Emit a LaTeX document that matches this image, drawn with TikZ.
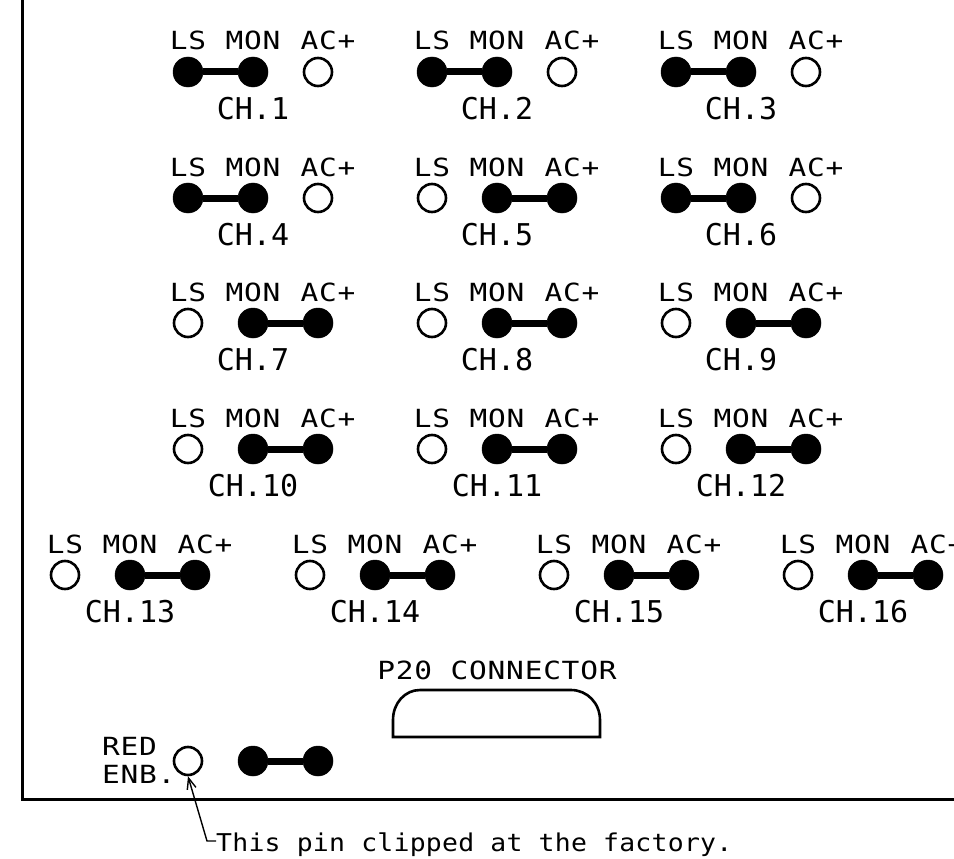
\documentclass[tikz,border=0pt]{standalone}
\usepackage{fontspec}
\setmainfont{DejaVu Sans Mono}
\newfontfamily\lblfont[FakeStretch=1.18,LetterSpace=3]{DejaVu Sans Mono}
\newfontfamily\chfont[LetterSpace=0]{DejaVu Sans Mono}
\newfontfamily\notefont[FakeStretch=1.08,LetterSpace=1]{DejaVu Sans Mono}
\usetikzlibrary{arrows.meta}
\tikzset{
  x=1pt,y=-1pt,
  outline/.style={line width=3pt,line cap=butt,line join=miter},
  pinopen/.style={circle,draw,line width=2.6pt,minimum size=28pt,inner sep=0pt},
  pinfull/.style={circle,fill,draw,line width=0.5pt,minimum size=30pt,inner sep=0pt},
  jumper/.style={line width=7pt},
  lbl/.style={anchor=base,inner sep=0pt,font=\lblfont\fontsize{25pt}{27pt}\selectfont},
  chlbl/.style={anchor=base,inner sep=0pt,font=\chfont\fontsize{30pt}{32pt}\selectfont},
  lftlbl/.style={anchor=base west,inner sep=0pt,font=\lblfont\fontsize{25pt}{27pt}\selectfont},
  notelbl/.style={anchor=base west,inner sep=0pt,font=\notefont\fontsize{24.5pt}{26pt}\selectfont},
  leader/.style={line width=1.4pt,-{Straight Barb[length=11pt,width=9pt,line width=1.4pt]}},
}
\newcommand{\chanL}[3]{% x of LS, y, number, jumper on LS-MON
  \node[lbl] (ls#3) at (#1,#2-22) {LS};
  \node[lbl] (mo#3) at (#1+65,#2-22) {MON};
  \node[lbl] (ac#3) at (#1+140,#2-22) {AC+};
  \node[pinfull] (a#3) at (#1,#2) {};
  \node[pinfull] (b#3) at (#1+65,#2) {};
  \node[pinopen] (c#3) at (#1+130,#2) {};
  \draw[jumper] (a#3) -- (b#3);
  \node[chlbl] (ch#3) at (#1+65,#2+47) {CH.#3};
}
\newcommand{\chanR}[3]{% jumper on MON-AC+
  \node[lbl] (ls#3) at (#1,#2-22) {LS};
  \node[lbl] (mo#3) at (#1+65,#2-22) {MON};
  \node[lbl] (ac#3) at (#1+140,#2-22) {AC+};
  \node[pinopen] (a#3) at (#1,#2) {};
  \node[pinfull] (b#3) at (#1+65,#2) {};
  \node[pinfull] (c#3) at (#1+130,#2) {};
  \draw[jumper] (b#3) -- (c#3);
  \node[chlbl] (ch#3) at (#1+65,#2+47) {CH.#3};
}
\begin{document}
\begin{tikzpicture}
\useasboundingbox (0,0) rectangle (954,859);
\clip (0,0) rectangle (954,859);
\coordinate (ftop) at (22,0);
\coordinate (fcorner) at (22,799);
\coordinate (fright) at (954,799);
\draw[outline] (ftop) -- (fcorner) -- (fright);
\chanL{188}{72}{1}
\chanL{432}{72}{2}
\chanL{676}{72}{3}
\chanL{188}{198}{4}
\chanR{432}{198}{5}
\chanL{676}{198}{6}
\chanR{188}{323}{7}
\chanR{432}{323}{8}
\chanR{676}{323}{9}
\chanR{188}{449}{10}
\chanR{432}{449}{11}
\chanR{676}{449}{12}
\chanR{65}{575}{13}
\chanR{310}{575}{14}
\chanR{554}{575}{15}
\chanR{798}{575}{16}
\node[lbl] (p20) at (497,679) {P20 CONNECTOR};
\draw[outline,line width=2.6pt] (393,737) -- (393,720) .. controls (393,703) and (405,690) .. (420,690) -- (571,690) .. controls (587,690) and (600,703) .. (600,720) -- (600,737) -- cycle;
\node[lftlbl] (red) at (102,755) {RED};
\node[lftlbl] (enb) at (102,783) {ENB.};
\node[pinopen] (rp) at (188,761) {};
\node[pinfull] (rq) at (253,761) {};
\node[pinfull] (rr) at (318,761) {};
\draw[jumper] (rq) -- (rr);
\node[notelbl] (note) at (216,851) {This pin clipped at the factory.};
\coordinate (bend) at (207,841);
\draw[leader] (note.west |- bend) -- (bend) -- (rp.south);
\end{tikzpicture}
\end{document}
